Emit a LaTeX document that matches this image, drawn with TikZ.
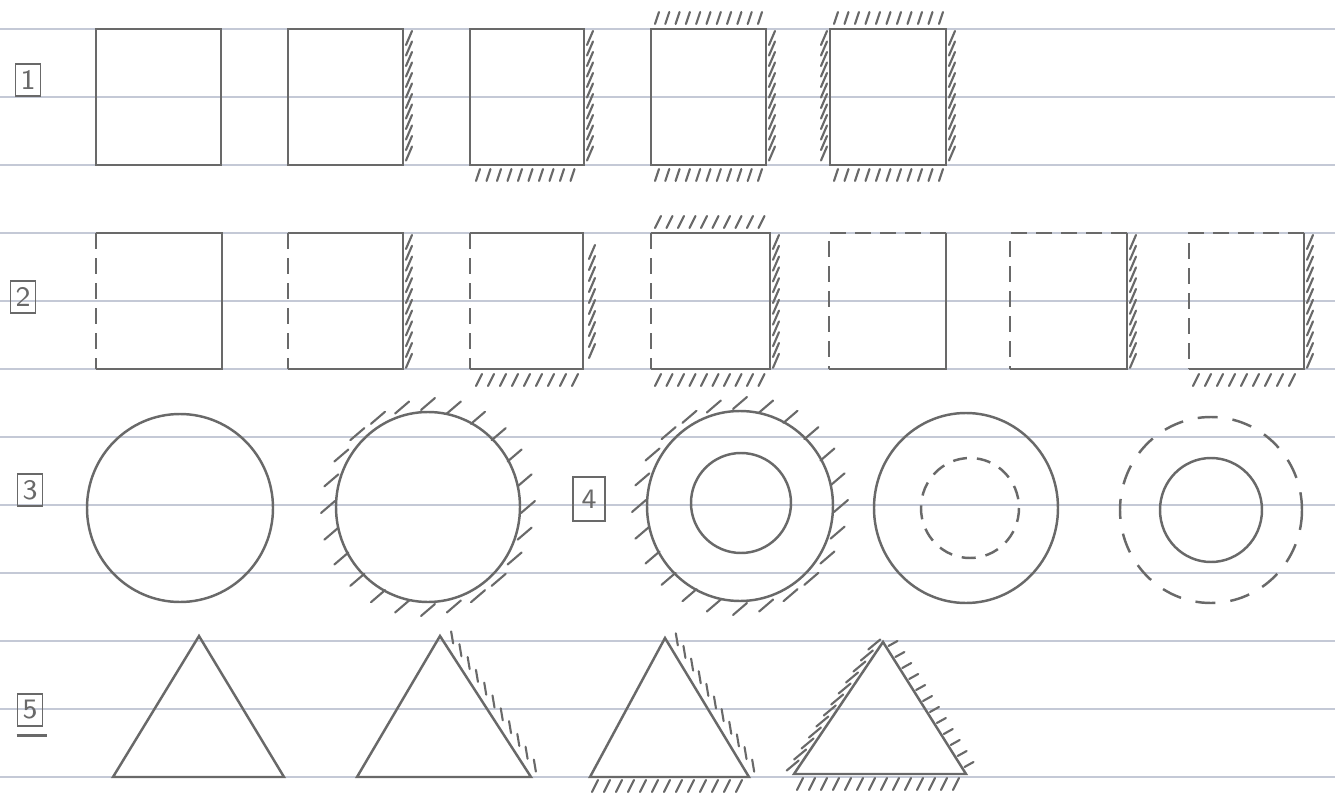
\documentclass[tikz,border=0pt]{standalone}
\usepackage{tikz}
\definecolor{ruleblue}{RGB}{196,201,214}
\definecolor{pencil}{RGB}{105,105,105}

\begin{document}
\begin{tikzpicture}[
  x=0.01cm,
  y=-0.01cm,
  rule/.style={draw=ruleblue, line width=0.5pt},
  outline/.style={draw=pencil, line width=0.7pt},
  dashed side/.style={outline, dash pattern=on 0.16cm off 0.09cm},
  dashed ring/.style={outline, dash pattern=on 0.14cm off 0.10cm},
  hatch/.style={draw=pencil, line width=0.6pt, line cap=round},
  tag/.style={draw=pencil, line width=0.5pt, text=pencil,
    font=\sffamily\fontsize{8}{8}\selectfont,
    minimum width=0.25cm, minimum height=0.32cm, inner sep=0.5pt}
]
  \path[use as bounding box] (0,0) rectangle (1335,809);
  \fill[white] (0,0) rectangle (1335,809);

  % Ruled paper.
  \foreach \k in {0,...,11}
    \draw[rule] (0,{29+68*\k}) -- (1335,{29+68*\k});

  % Row 1: solid squares.
  \node[tag] (tag1) at (28,80) {1};
  \draw[outline] (96,29) rectangle (221,165);
  \draw[outline] (288,29) rectangle (403,165);
  \foreach \i in {0,...,11}
    \draw[hatch] (409,{38+10.5*\i}) ++(-3,7) -- ++(6,-14);
  \draw[outline] (470,29) rectangle (584,165);
  \foreach \i in {0,...,11}
    \draw[hatch] (590,{38+10.5*\i}) ++(-3,7) -- ++(6,-14);
  \foreach \i in {0,...,9}
    \draw[hatch] ({478+10.5*\i},175) ++(-2,6) -- ++(4,-12);
  \draw[outline] (651,29) rectangle (766,165);
  \foreach \i in {0,...,10}
    \draw[hatch] ({657+10.3*\i},18) ++(-2,6) -- ++(4,-12);
  \foreach \i in {0,...,11}
    \draw[hatch] (772,{38+10.5*\i}) ++(-3,7) -- ++(6,-14);
  \foreach \i in {0,...,10}
    \draw[hatch] ({657+10.3*\i},175) ++(-2,6) -- ++(4,-12);
  \draw[outline] (830,29) rectangle (946,165);
  \foreach \i in {0,...,10}
    \draw[hatch] ({836+10.5*\i},18) ++(-2,6) -- ++(4,-12);
  \foreach \i in {0,...,11}
    \draw[hatch] (824,{38+10.5*\i}) ++(-3,7) -- ++(6,-14);
  \foreach \i in {0,...,11}
    \draw[hatch] (952,{38+10.5*\i}) ++(-3,7) -- ++(6,-14);
  \foreach \i in {0,...,10}
    \draw[hatch] ({836+10.5*\i},175) ++(-2,6) -- ++(4,-12);

  % Row 2: squares with dashed sides.
  \node[tag] (tag2) at (23,297) {2};
  \draw[outline] (96,233) -- (222,233) -- (222,369) -- (96,369);
  \draw[dashed side] (96,233) -- (96,369);
  \draw[outline] (288,233) -- (403,233) -- (403,369) -- (288,369);
  \draw[dashed side] (288,233) -- (288,369);
  \foreach \i in {0,...,11}
    \draw[hatch] (409,{242+10.8*\i}) ++(-3,7) -- ++(6,-14);
  \draw[outline] (470,233) -- (583,233) -- (583,369) -- (470,369);
  \draw[dashed side] (470,233) -- (470,369);
  \foreach \i in {0,...,9}
    \draw[hatch] (592,{252+11*\i}) ++(-3,7) -- ++(6,-14);
  \foreach \i in {0,...,8}
    \draw[hatch] ({479+12*\i},380) ++(-3,6) -- ++(6,-12);
  \draw[outline] (651,233) -- (770,233) -- (770,369) -- (651,369);
  \draw[dashed side] (651,233) -- (651,369);
  \foreach \i in {0,...,9}
    \draw[hatch] ({658+11.5*\i},222) ++(-3,6) -- ++(6,-12);
  \foreach \i in {0,...,11}
    \draw[hatch] (776,{242+10.8*\i}) ++(-3,7) -- ++(6,-14);
  \foreach \i in {0,...,9}
    \draw[hatch] ({658+11.5*\i},380) ++(-3,6) -- ++(6,-12);
  \draw[outline] (946,233) -- (946,369) -- (829,369);
  \draw[dashed side] (946,233) -- (829,233) -- (829,369);
  \draw[outline] (1127,233) -- (1127,369) -- (1010,369);
  \draw[dashed side] (1127,233) -- (1010,233) -- (1010,369);
  \foreach \i in {0,...,11}
    \draw[hatch] (1133,{242+10.8*\i}) ++(-3,7) -- ++(6,-14);
  \draw[outline] (1304,233) -- (1304,369) -- (1189,369);
  \draw[dashed side] (1304,233) -- (1189,233) -- (1189,369);
  \foreach \i in {0,...,11}
    \draw[hatch] (1310,{242+10.8*\i}) ++(-3,7) -- ++(6,-14);
  \foreach \i in {0,...,8}
    \draw[hatch] ({1196+12*\i},380) ++(-3,6) -- ++(6,-12);

  % Row 3: circles.
  \node[tag] (tag3) at (30,490) {3};
  \draw[outline] (180,508) ellipse [x radius=93, y radius=94];
  \draw[outline] (428,507) ellipse [x radius=92, y radius=95];
  \foreach \a in {0,15,...,345}
    \draw[hatch] ({428+100*cos(\a)},{507+103*sin(\a)}) ++(-7,6) -- ++(14,-12);

  % Row 4: rings.
  \node[tag, minimum width=0.32cm, minimum height=0.44cm] (tag4) at (589,499) {4};
  \draw[outline] (740,506) ellipse [x radius=93, y radius=95];
  \draw[outline] (741,503) ellipse [x radius=50, y radius=50];
  \foreach \a in {0,15,...,345}
    \draw[hatch] ({740+101*cos(\a)},{506+103*sin(\a)}) ++(-7,6) -- ++(14,-12);
  \draw[outline] (966,508) ellipse [x radius=92, y radius=95];
  \draw[dashed ring] (970,508) ellipse [x radius=49, y radius=50];
  \draw[dashed ring, dash pattern=on 0.20cm off 0.15cm]
    (1211,510) ellipse [x radius=91, y radius=93];
  \draw[outline] (1211,510) ellipse [x radius=51, y radius=52];

  % Row 5: triangles.
  \node[tag] (tag5) at (30,710) {5};
  \draw[outline] ([yshift=-2.5pt]tag5.south west)
    -- ([xshift=1pt,yshift=-2.5pt]tag5.south east);
  \draw[outline] (199,636) -- (284,777) -- (113,777) -- cycle;
  \draw[outline] (440,636) -- (531,777) -- (357,777) -- cycle;
  \foreach \i in {0,...,10}
    \draw[hatch] ({440+91*(\i+0.5)/11+8},{636+141*(\i+0.5)/11-5})
      ++(-1,-6) -- ++(2,12);
  \draw[outline] (665,638) -- (749,777) -- (590,777) -- cycle;
  \foreach \i in {0,...,10}
    \draw[hatch] ({665+84*(\i+0.5)/11+8},{638+139*(\i+0.5)/11-5})
      ++(-1,-6) -- ++(2,12);
  \foreach \i in {0,...,12}
    \draw[hatch] ({595+12*\i},786) ++(-3,6) -- ++(6,-12);
  \draw[outline] (883,642) -- (966,774) -- (794,774) -- cycle;
  \foreach \i in {0,...,11}
    \draw[hatch] ({883+83*(\i+0.5)/12+6},{642+132*(\i+0.5)/12-4})
      ++(-4,2.5) -- ++(9,-5);
  \foreach \i in {0,...,11}
    \draw[hatch] ({883-89*(\i+0.5)/12-5},{642+132*(\i+0.5)/12-3})
      ++(-6,5) -- ++(12,-10);
  \foreach \i in {0,...,13}
    \draw[hatch] ({800+12*\i},784) ++(-3,6) -- ++(6,-12);
\end{tikzpicture}
\end{document}
